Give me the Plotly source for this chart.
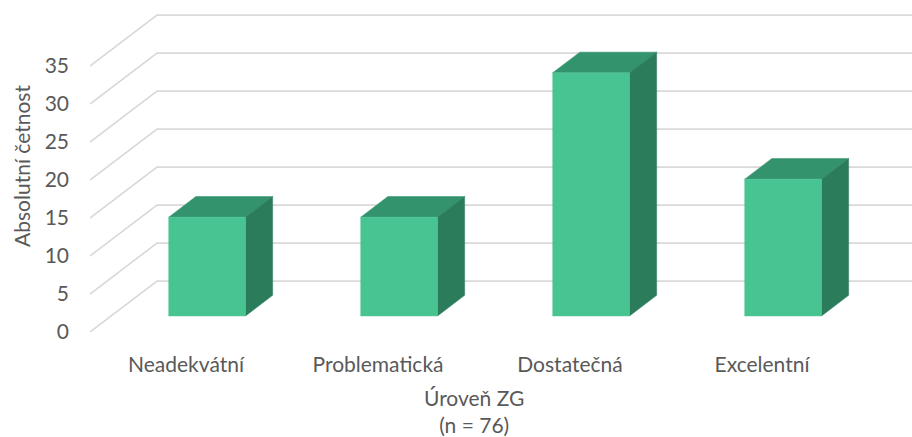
import plotly.graph_objects as go

# Chart data
categories = ["Neadekvátní", "Problematická", "Dostatečná", "Excelentní"]
counts = [13, 13, 32, 18]
y_ticks = [0, 5, 10, 15, 20, 25, 30, 35]
x_title = "Úroveň ZG<br>(n = 76)"
y_title = "Absolutní četnost"

# Oblique projection: one unit of depth shifts right (category units) and up (value units)
DEPTH_DX = 0.349
DEPTH_DY = 6.7
BAR_D0, BAR_D1 = 0.315, 0.72     # front / back planes of the bars
BAR_HALF = 0.2                   # half bar width in category units

# Pixel layout
W, H = 912, 437
PX_PER_CAT = 192
PX_PER_VAL = 7.6
M_L, M_B = 90, 105
plot_w = W - M_L
plot_h = H - M_B
x0 = -0.5
x_range = [x0, x0 + plot_w / PX_PER_CAT]
y_range = [0, plot_h / PX_PER_VAL]

FRONT = "#48C492"
TOP = "#33936D"
SIDE = "#2B7C5B"
GRID = "#D9D9D9"
TEXT = "#595959"
FONT = "Lato, Carlito, Calibri, sans-serif"

fig = go.Figure()

# Side wall diagonals + back wall horizontal gridlines
for v in y_ticks:
    xs = [x0, x0 + DEPTH_DX, x_range[1] + 1]
    ys = [v, v + DEPTH_DY, v + DEPTH_DY]
    fig.add_trace(go.Scatter(x=xs, y=ys, mode="lines",
                             line=dict(color=GRID, width=1.6),
                             hoverinfo="skip", showlegend=False))


def poly(xs, ys, color):
    fig.add_trace(go.Scatter(x=xs + [xs[0]], y=ys + [ys[0]], mode="lines",
                             fill="toself", fillcolor=color,
                             line=dict(color=color, width=0.5),
                             hoverinfo="skip", showlegend=False))


for i, v in enumerate(counts):
    xl0 = i - BAR_HALF + BAR_D0 * DEPTH_DX
    xr0 = i + BAR_HALF + BAR_D0 * DEPTH_DX
    xl1 = i - BAR_HALF + BAR_D1 * DEPTH_DX
    xr1 = i + BAR_HALF + BAR_D1 * DEPTH_DX
    yb0 = BAR_D0 * DEPTH_DY
    yb1 = BAR_D1 * DEPTH_DY
    # top face
    poly([xl0, xr0, xr1, xl1], [v + yb0, v + yb0, v + yb1, v + yb1], TOP)
    # right side face
    poly([xr0, xr1, xr1, xr0], [yb0, yb1, v + yb1, v + yb0], SIDE)
    # front face
    poly([xl0, xr0, xr0, xl0], [yb0, yb0, v + yb0, v + yb0], FRONT)

# Category-axis title, centred under the category band of the front plane
fig.add_annotation(
    x=(len(categories) - 1) / 2, xref="x",
    y=-79 / plot_h, yref="paper", yanchor="middle",
    text=x_title, showarrow=False, align="center",
    font=dict(family=FONT, size=21, color=TEXT),
)

fig.update_layout(
    width=W, height=H,
    margin=dict(l=M_L, r=0, t=0, b=M_B, autoexpand=False),
    paper_bgcolor="white", plot_bgcolor="white",
    font=dict(family=FONT, size=21, color=TEXT),
    showlegend=False,
    xaxis=dict(range=x_range, tickvals=list(range(len(categories))),
               ticktext=categories, showgrid=False, zeroline=False,
               showline=False, ticks="", ticklabelstandoff=18,
               automargin=False, fixedrange=True),
    yaxis=dict(range=y_range, tickvals=y_ticks, showgrid=False,
               zeroline=False, showline=False, ticks="",
               ticklabelstandoff=20, automargin=False, fixedrange=True,
               title=dict(text=y_title, standoff=8,
                          font=dict(size=21, color=TEXT))),
)

fig.write_html("out.html")
